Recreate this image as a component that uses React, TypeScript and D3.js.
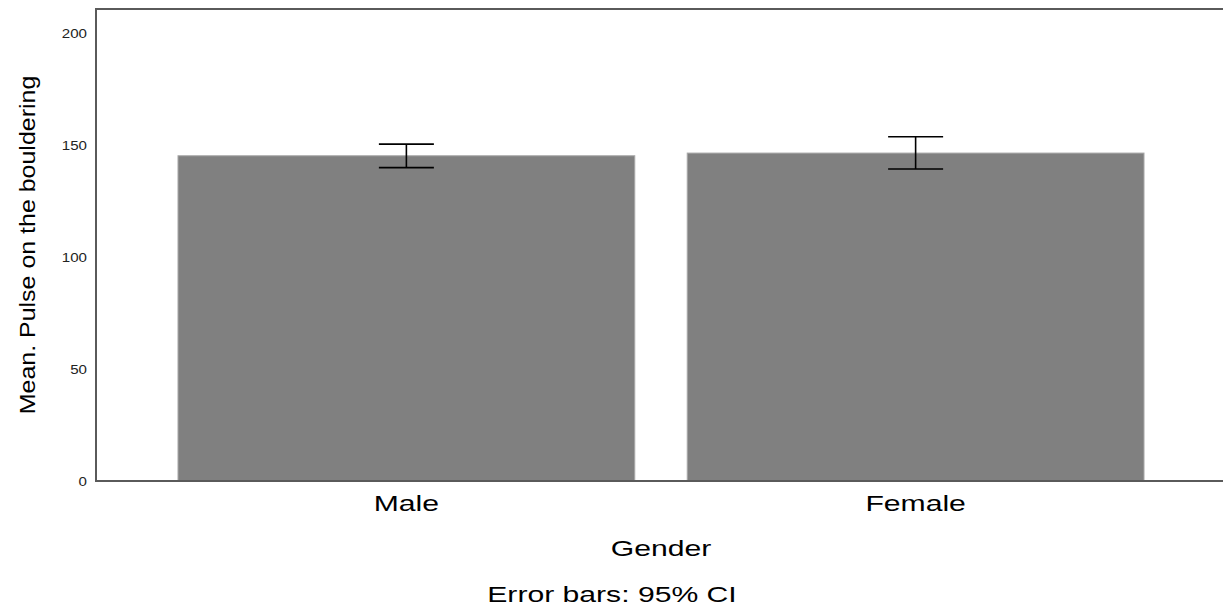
import React from "react";
import * as d3 from "d3";

const categories = ["Male", "Female"];
const means = [145.2, 146.4];
const ciLower = [139.9, 139.3];
const ciUpper = [150.4, 153.7];
const yTicks = [0, 50, 100, 150, 200];

const W = 1223;
const H = 608;
const FONT = "'Liberation Sans', Arial, Helvetica, sans-serif";
const SX = 1.37;

export default function App() {
  const x = d3
    .scaleBand<string>()
    .domain(categories)
    .range([96, 1226])
    .paddingInner(0.103)
    .paddingOuter(0.161);
  const y = d3.scaleLinear().domain([0, 200]).range([481, 33]);
  const left = 96;
  const top = 9;
  const bottom = 481;
  const capHalf = 27.5;

  const hText = (key: string, cx: number, by: number, s: string) => (
    <text
      key={key}
      transform={`translate(${cx},${by}) scale(${SX},1)`}
      textAnchor="middle"
      fontFamily={FONT}
      fontSize={22}
      fill="#000"
    >
      {s}
    </text>
  );

  return (
    <svg
      width={W}
      height={H}
      style={{ position: "absolute", left: 0, top: 0, display: "block", background: "#fff" }}
    >
      {categories.map((c, i) => (
        <rect
          key={c}
          x={x(c)!}
          y={y(means[i])}
          width={x.bandwidth()}
          height={y(0) - y(means[i])}
          fill="#808080"
          stroke="#a8a8a8"
          strokeWidth={1}
        />
      ))}
      {categories.map((c, i) => {
        const cx = x(c)! + x.bandwidth() / 2;
        return (
          <g key={c + "-err"} stroke="#000" strokeWidth={1.6}>
            <line x1={cx} x2={cx} y1={y(ciUpper[i])} y2={y(ciLower[i])} />
            <line x1={cx - capHalf} x2={cx + capHalf} y1={y(ciUpper[i])} y2={y(ciUpper[i])} />
            <line x1={cx - capHalf} x2={cx + capHalf} y1={y(ciLower[i])} y2={y(ciLower[i])} />
          </g>
        );
      })}
      <g stroke="#5a5a5a" strokeWidth={2} fill="none">
        <line x1={left} x2={W} y1={top} y2={top} />
        <line x1={left} x2={left} y1={top - 1} y2={bottom + 1} />
        <line x1={left - 1} x2={W} y1={bottom} y2={bottom} />
      </g>
      {yTicks.map((t) => (
        <text
          key={t}
          transform={`translate(87,${y(t)}) scale(1.12,1)`}
          dy="0.35em"
          textAnchor="end"
          fontFamily={FONT}
          fontSize={13.5}
          fill="#222"
        >
          {t}
        </text>
      ))}
      {categories.map((c) => hText(c + "-lbl", x(c)! + x.bandwidth() / 2, 511, c))}
      {hText("gender", 661, 556, "Gender")}
      {hText("err", 612, 602, "Error bars: 95% CI")}
      <text
        transform={`translate(35, 245) rotate(-90) scale(1.11,1)`}
        textAnchor="middle"
        fontFamily={FONT}
        fontSize={22.5}
        fill="#000"
      >
        Mean. Pulse on the bouldering
      </text>
    </svg>
  );
}
